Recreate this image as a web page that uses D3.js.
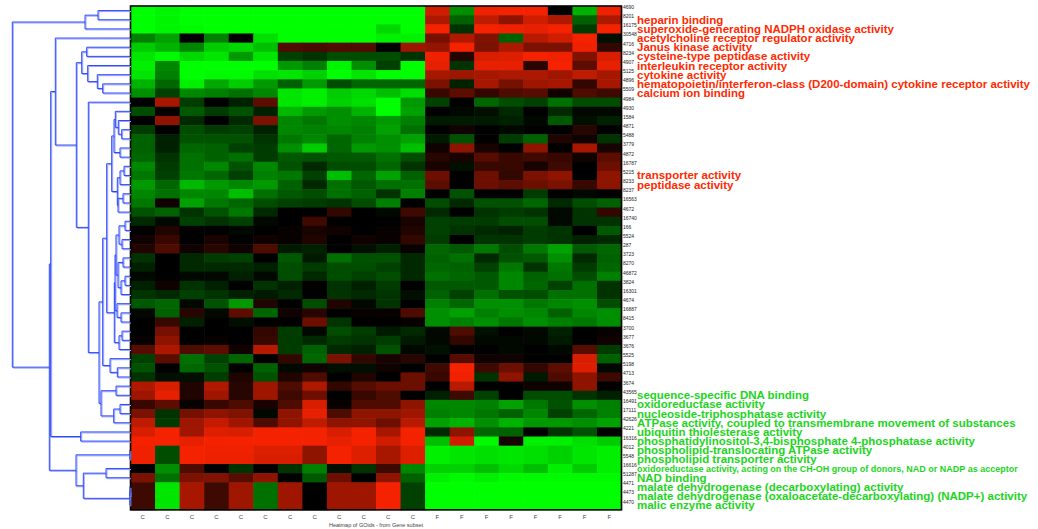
<!DOCTYPE html>
<html>
<head>
<meta charset="utf-8">
<script src="https://cdn.jsdelivr.net/npm/d3@7"></script>
<style>
  html, body { margin: 0; padding: 0; background: #ffffff; }
  svg { display: block; }
</style>
</head>
<body>
<svg id="chart" width="1038" height="529"></svg>
<script>
// GO term ids, one per heatmap row (top to bottom, dendrogram order)
const rowIds = [4690, 8201, 16175, 30548, 4716, 8234, 4907, 5125, 4896, 5509,
  4984, 4930, 1584, 4871, 5488, 3779, 4872, 16787, 5215, 8233,
  8237, 16563, 4672, 16740, 166, 5524, 287, 3723, 8270, 46872,
  3824, 16301, 4674, 16887, 8415, 3700, 3677, 3676, 5525, 5198,
  4713, 3674, 43565, 16491, 17111, 42626, 4221, 16316, 4012, 5548,
  16616, 51287, 4471, 4473, 4470];

// sample groups along the columns
const colLabels = ["C","C","C","C","C","C","C","C","C","C","C","C",
                   "F","F","F","F","F","F","F","F"];

// scaled score per row (-10 = strongly down, +10 = strongly up)
const scores = [
  [-10,-9.6,-10,-10,-10,-10,-10,-10,-10,-10, -10,-10, 8.5,-5.6,9.8,10,10,0,-7,9.8],
  [-10,-9.6,-10,-10,-10,-10,-10,-10,-10,-10, -10,-10, 7,-3.8,7.8,5.8,8.5,7.2,-3.8,7],
  [-10,-9.6,-9.8,-10,-10,-10,-10,-10,-10,-10, -8.5,-10, 10,-2,10,9.8,9.4,10,-2.3,10],
  [-5,-6.3,0,-5,0,-8.8,-10,-10,-10,-10, -9.5,-9.5, 4.8,7.2,5.2,-3.8,7.5,8.5,10,-0.6],
  [-8,-7,-5.3,-8,-8.5,-7.5,3.3,3,3.3,3.3, 0,6.5, 6,10,5,7,5,5,9.8,2],
  [-9,-9.8,-8.5,-9,-6,-9,-2.5,-2,-3,-3, -3,-2, 9.8,1.5,8.8,9,10,9.8,5.2,8.8],
  [-9.4,-5.3,-10,-10,-10,-10,-6,-5,-9.6,-5.6, -2.5,-10, 9.4,-2,9.4,9.4,1.6,10,3.8,9.4],
  [-9,-5,-10,-9.8,-9.8,-8.8,-9,-8.2,-10,-9, -10,-10, 6.8,6.5,6.8,7,7,6.5,7.8,6.8],
  [-7,-4,-9.4,-6.6,-8,-6,-3.8,-6,-3,-4, -4,-4, 5,-1.3,6.8,4.8,6.5,6.8,2,6.8],
  [-5.6,-2.5,-5.3,-5,-4.4,-5.3,-9,-9.4,-8,-8.5, -7.5,-8.8, 2.3,3.8,2,3.2,3.5,0.7,3.2,2.5],
  [0,6.8,-2.3,0,-1.3,3.8,-9,-9.4,-8.2,-8.8, -10,-6, -2.5,0,-4,-3,-2.5,-4.4,-3,-3],
  [-3,0.3,-3.5,-2.3,-3.2,-1.3,-7.2,-6,-5.6,-7, -10,-6.3, 0,-0.3,-0.6,-1.6,0,-1.6,-0.3,-0.3],
  [0,5.8,-1.6,0,-1.6,5,-5.3,-4.7,-5.6,-5.3, -6,-5, -1,-1,-1,-1.3,-0.3,-3.5,-0.6,-1.3],
  [-2.3,0,-3,-2.3,-2.5,-1.3,-5.3,-5,-5.3,-5, -6.3,-4.4, 0,0.6,0,-0.3,0,0,1.6,0],
  [-3.8,-1.3,-3.2,-3.2,-3.2,-2,-4.7,-5.3,-4,-5, -5.6,-6.3, -1,-3.2,0,-2.3,-3.8,1.3,0.6,-2],
  [-3.8,-1.3,-4,-3.8,-2.5,-2.3,-5.6,-8,-4,-6, -5.6,-7.5, 0.6,5.8,1,0,5.8,0,6.8,1],
  [-4,-2,-4.4,-3.8,-4.4,-2.3,-3.5,-3.2,-3.5,-3.5, -4.4,-3, 1.6,1,3.5,2.3,2.5,2.3,0.6,3.8],
  [-5.3,-2.3,-4.4,-5.3,-3.2,-5.3,-3.2,-1.6,-3,-3, -4,-2, 1,-0.6,2.3,2.3,1,2.5,0,4.4],
  [-4.7,-2.5,-4.7,-4,-2.5,-5,-4.7,-2.5,-7.5,-4, -6.3,-3.8, 4.4,0,4.4,2,5,5.8,0,5.8],
  [-6,-4,-7.2,-6,-5.3,-6,-3.8,-1.6,-4.4,-3.5, -4.4,-4.4, 3.8,0,4.4,3.8,4.4,5,2.3,5.8],
  [-5.3,-4.4,-5.3,-5.3,-7.5,-4.4,-3.5,-3,-4.4,-3.8, -2,-5, 0,-3.2,0,0,-2.3,0,-0.3,0],
  [-4.7,0.6,-6.3,-4.7,-4,-3,-2.5,-2.3,-2,-3, -5,0, -3,-1.6,-3.2,-3.2,-4,-1.6,-3,-3.8],
  [-3.2,-3.8,-2,-3.2,-4.7,-1.6,0,0,2,0, -0.3,2.5, -1.6,0,-2,-2.3,-2,-0.3,-2,2],
  [-1.6,-0.3,-2.5,-2,-2.5,-0.3,0,2.5,0,0, 0,1, -2.5,-2.3,-2.3,-3,-3,-0.3,-2,-2],
  [0,1.3,0,0,-0.3,0,0.3,1,0.6,0, 0.3,1.3, -2.5,-2,-1.6,-1.3,-2.3,-2,0,-3.5],
  [0.6,2.3,0,1,0,0.6,0.3,1.3,0,0.6, 0.3,2, -2.3,0,-2,-2,-2.3,-2,-1.3,-1.6],
  [1.3,3.2,0.6,1.6,0.6,3.2,-1,-1.3,0,-0.6, -1.3,0.3, -4,-3.5,-4.7,-3,-4.7,-6.3,-3.5,-4],
  [-2,0,-1.6,-2.3,-2.5,0,-3.5,-1,-4.4,-3.2, -3.2,-1.6, -3.8,-4.4,-1.6,-3.2,-3.5,-5.6,-1.6,-3.8],
  [-1.3,0,-1.6,-1.6,-1.6,-1.3,-3,-2.3,-3,-3, -2.5,-1.6, -4,-3.8,-2.5,-4.7,-2,-4.7,-2.3,-4],
  [-0.3,0,-0.3,-0.3,-1.3,-0.3,-3,-1.6,-3,-2.5, -3,-1.6, -4.4,-4,-3.5,-5.3,-3.8,-4.4,-3,-5],
  [-1.3,0.6,-2,-1.3,0,-2,-1.3,0,-2,-1.3, -2.3,0, -3.5,-3.5,-3.5,-5.3,-4,-2.5,-4.4,-2],
  [-2,-1.6,-2.5,-2,-1.3,-1,-1.6,0,-2,-1.6, -2,-0.6, -3.8,-2.5,-4.4,-3.2,-3,-4.4,-4.4,-2],
  [-3.5,-4,-0.3,-3.2,-6,1.3,0,-3,1.3,-0.3, -2,0, -5,-4,-5.6,-5.6,-4.7,-5.3,-5.6,-3],
  [-0.3,-3.8,1.6,-0.3,3.8,-4,0.6,1.6,0,0.3, 0.3,3.2, -5.6,-6.3,-5,-5.6,-5.3,-3.8,-5.3,-5.6],
  [0,2.3,-1.3,0,-0.6,0,0,4.4,-2,0, 0,0.3, -5.6,-5,-5.6,-4.7,-5.6,-5,-4.7,-5.6],
  [0,4.8,0,0,0,2,-2.3,-0.3,-3,-2.3, -1,-1.6, -0.3,3.2,-0.6,0,-0.3,-1.3,0,0.3],
  [0.3,5.8,0,0.3,0,2.3,-2.3,-1.6,-2.3,-2, -2.3,-1, -0.3,2,-0.3,-0.3,-0.3,-1,0,0.6],
  [3.5,7,3.2,3.8,0.6,7.5,-2.3,-3.8,-1.6,-1.3, -3.2,-0.3, -0.6,0,0,-0.3,0,-0.3,3.5,-2.3],
  [-2.5,3.8,-4.4,-2.5,-4,0,2,-4,5,2, 1,1.6, 0,3.5,0.6,0.6,0,0,8.8,-3.8],
  [-3.2,0,-4,-3.2,0,-3.8,-0.3,0.6,-0.6,-0.6, 0.6,0, 2.5,10,2.5,4.4,2,3.8,9,-0.3],
  [-2,-0.6,-0.6,-2.3,1.3,-3.2,1.3,3.2,0,1.3, 0,4.4, 2.3,9.8,-2,5.8,-1,3.2,5.8,2.5],
  [7.2,8.8,1.3,7.2,1.6,6.5,3.2,7,2,3.5, 4.4,4.4, 0,7.5,0,0,0.6,0.6,5.8,0],
  [6.5,9.4,1.3,6.5,1.6,6.5,2.5,4.4,0,2.3, 3.2,0, -1.3,2.5,-2.5,0,-3,-3,-2,-1.3],
  [2.3,3.8,0.3,2.3,3.2,1,3.2,8.8,0.3,3.2, 3.2,5.8, -5.3,-5.3,-5,-6.3,-4.7,-3.2,-5.6,-5],
  [5,-2,4.8,5.8,5.2,-0.3,5.8,9.4,3.2,5.8, 5.8,6.5, -5,-5.3,-4.7,-3.8,-5.3,-2.5,-4,-5],
  [7.8,-2.3,6.5,8,6.5,3.2,5.8,7.8,5.8,5.8, 4.4,7.5, -6.3,-7,-5.6,-7,-6,-6,-5.6,-6.3],
  [8.8,10,6.5,9,8.8,10,10,10,8.8,10, 6.8,10, -1.6,5.8,-4,-3.8,0,-2,-3.2,0],
  [10,10,9.4,10,10,10,10,10,9.4,10, 8.5,10, -7.5,8.5,-9.8,1,-9.4,-9.4,-8.8,-8],
  [9.8,-3,10,9.8,9.8,9,9,5.8,10,9, 6.8,9, -9.4,-9,-8.8,-9,-8.8,-8.2,-9,-9.4],
  [9.8,-3,10,9.6,9.6,8.8,8.8,5.8,10,9, 6.8,9, -9.4,-9,-8.8,-9,-8.8,-8.2,-9,-9.4],
  [0,-5.6,3.2,0,-2,0,-2,-5,-0.6,-2, 2.5,-5.3, -8.2,-8.2,-7.5,-8.5,-7.5,-9.4,-8,-9.4],
  [5,-4.4,5,5.2,3.5,5.8,0,-3.5,4.4,0, 5.8,-3.8, -9.4,-9.8,-9.4,-9.8,-9.8,-9.8,-9.8,-9.8],
  [2.5,-9,6.8,2.5,6.5,-4.4,6.5,0,6.5,6.5, 10,-2.5, -10,-10,-10,-10,-10,-10,-10,-10],
  [2.5,-9,6.8,2.5,6.5,-4.4,6.5,0,6.5,6.5, 10,-2.5, -10,-10,-10,-10,-10,-10,-10,-10],
  [2.5,-9,6.8,2.5,6.5,-4.4,6.5,0,6.5,6.5, 10,-2.5, -10,-10,-10,-10,-10,-10,-10,-10]
];

// highlighted GO terms: row index, term name, direction in F
const termRows = [1, 2, 3, 4, 5, 6, 7, 8, 9, 18, 19,
  42, 43, 44, 45, 46, 47, 48, 49, 50, 51, 52, 53, 54];
const termNames = [
  "heparin binding",
  "superoxide-generating NADPH oxidase activity",
  "acetylcholine receptor regulator activity",
  "Janus kinase activity",
  "cysteine-type peptidase activity",
  "interleukin receptor activity",
  "cytokine activity",
  "hematopoietin/interferon-class (D200-domain) cytokine receptor activity",
  "calcium ion binding",
  "transporter activity",
  "peptidase activity",
  "sequence-specific DNA binding",
  "oxidoreductase activity",
  "nucleoside-triphosphatase activity",
  "ATPase activity, coupled to transmembrane movement of substances",
  "ubiquitin thiolesterase activity",
  "phosphatidylinositol-3,4-bisphosphate 4-phosphatase activity",
  "phospholipid-translocating ATPase activity",
  "phospholipid transporter activity",
  "oxidoreductase activity, acting on the CH-OH group of donors, NAD or NADP as acceptor",
  "NAD binding",
  "malate dehydrogenase (decarboxylating) activity",
  "malate dehydrogenase (oxaloacetate-decarboxylating) (NADP+) activity",
  "malic enzyme activity"
];
const termDirection = ["up","up","up","up","up","up","up","up","up","up","up",
  "down","down","down","down","down","down","down","down","down","down","down","down","down"];

// row clustering: [left, right, merge height]; leaves are row indices
const rowTree = [
  [[0, 1, 3.2], 2, 4.5],
  [
    [
      [3,
        [
          [[4, 5, 4.33], [6, [7, [8, 9, 2.73], 3.27], 4.23], 4.83],
          [10,
            [
              [
                [
                  [
                    [[11, [12, [13, 14, 0.83], 1.17], 1.47], [15, 16, 1.0], 1.6],
                    [[[17, 18, 0.6], 19, 1.0], [[20, 21, 0.7], 22, 1.2], 1.27],
                    1.83
                  ],
                  [
                    [
                      [[[23, 24, 0.5], [25, 26, 0.8], 1.1], [[27, 28, 0.7], [[29, 30, 0.5], 31, 0.9], 1.2], 1.4],
                      [32, [33, 34, 0.9], 1.3],
                      1.5
                    ],
                    [[35, 36, 0.8], 37, 1.1],
                    1.57
                  ],
                  2.33
                ],
                [38, [39, 40, 1.27], 2.0],
                2.73
              ],
              [[41, 42, 1.4], [[43, 44, 1.0], 45, 1.63], 2.9],
              3.1
            ],
            4.17
          ],
          5.37
        ],
        7.47
      ],
      [46, 47, 4.93],
      7.93
    ],
    [[48, 49, 0.02], [[50, 51, 2.4], [[52, 53, 0.01], 54, 0.02], 4.67], 5.4],
    8.07
  ],
  11.77
];

const svg = d3.select("#chart");

const heat = { left: 130.5, right: 621.5, top: 6, bottom: 509.8 };

const x = d3.scaleBand().domain(d3.range(colLabels.length)).range([heat.left, heat.right]);
const y = d3.scaleBand().domain(d3.range(rowIds.length)).range([heat.top, heat.bottom]);
const color = d3.scaleLinear().domain([-10, 0, 10])
  .range(["#00ff00", "#000000", "#f52200"]).clamp(true);

// heatmap cells
const cells = [];
scores.forEach((row, r) => row.forEach((v, c) => cells.push({ r, c, v })));
svg.append("g").selectAll("rect").data(cells).join("rect")
  .attr("x", d => x(d.c))
  .attr("y", d => y(d.r))
  .attr("width", x.bandwidth() + 0.6)
  .attr("height", y.bandwidth() + 0.6)
  .attr("fill", d => color(d.v));

svg.append("rect")
  .attr("x", heat.left).attr("y", heat.top)
  .attr("width", heat.right - heat.left).attr("height", heat.bottom - heat.top)
  .attr("fill", "none").attr("stroke", "#000").attr("stroke-width", 1.6);

// dendrogram
function toNode(n) {
  if (typeof n === "number") return { leaf: n, h: 0 };
  return { h: n[2], children: [toNode(n[0]), toNode(n[1])] };
}
const root = d3.hierarchy(toNode(rowTree));
const hx = d3.scaleLinear().domain([0, root.data.h]).range([heat.left - 0.5, 12.3]);
root.eachAfter(d => {
  d.py = d.children ? d3.mean(d.children, c => c.py) : y(d.data.leaf) + y.bandwidth() / 2;
});
const joins = root.descendants().filter(d => d.children);
function elbow(d) {
  const [a, b] = d.children;
  return `M${hx(a.data.h)},${a.py}H${hx(d.data.h)}V${b.py}H${hx(b.data.h)}`;
}
const dendro = svg.append("g").attr("fill", "none");
dendro.append("g").attr("transform", "translate(1,1)")
  .selectAll("path").data(joins).join("path")
  .attr("d", elbow).attr("stroke", "#9aa6ff").attr("stroke-width", 1);
dendro.append("g")
  .selectAll("path").data(joins).join("path")
  .attr("d", elbow).attr("stroke", "#2a46f8").attr("stroke-width", 1);

// GO id labels
svg.append("g").selectAll("text").data(rowIds).join("text")
  .attr("x", heat.right + 1.5)
  .attr("y", (d, i) => y(i) + 1)
  .attr("dominant-baseline", "central")
  .attr("font-family", "Liberation Sans, Arial, sans-serif")
  .attr("font-size", 5)
  .attr("fill", "#222")
  .text(d => d);

// highlighted term names
const terms = termRows.map((r, i) => ({ r, name: termNames[i], dir: termDirection[i] }));
svg.append("g").selectAll("text").data(terms).join("text")
  .attr("x", 637)
  .attr("y", d => y(d.r) + y.bandwidth() / 2)
  .attr("dominant-baseline", "central")
  .attr("font-family", "Liberation Sans, Arial, sans-serif")
  .attr("font-weight", "bold")
  .attr("font-size", d => d.name.length > 75 ? 9 : 11.5)
  .attr("fill", d => d.dir === "up" ? "#ff2a00" : "#1ed41e")
  .text(d => d.name);

// column labels
svg.append("g").selectAll("text").data(colLabels).join("text")
  .attr("x", (d, i) => x(i) + x.bandwidth() / 2)
  .attr("y", 517)
  .attr("text-anchor", "middle")
  .attr("dominant-baseline", "central")
  .attr("font-family", "Liberation Sans, Arial, sans-serif")
  .attr("font-size", 6)
  .attr("fill", "#444")
  .text(d => d);

svg.append("text")
  .attr("x", (heat.left + heat.right) / 2)
  .attr("y", 524.5)
  .attr("text-anchor", "middle")
  .attr("dominant-baseline", "central")
  .attr("font-family", "Liberation Sans, Arial, sans-serif")
  .attr("font-size", 5.5)
  .attr("fill", "#444")
  .text("Heatmap of GOids - from Gene subset");
</script>
</body>
</html>
